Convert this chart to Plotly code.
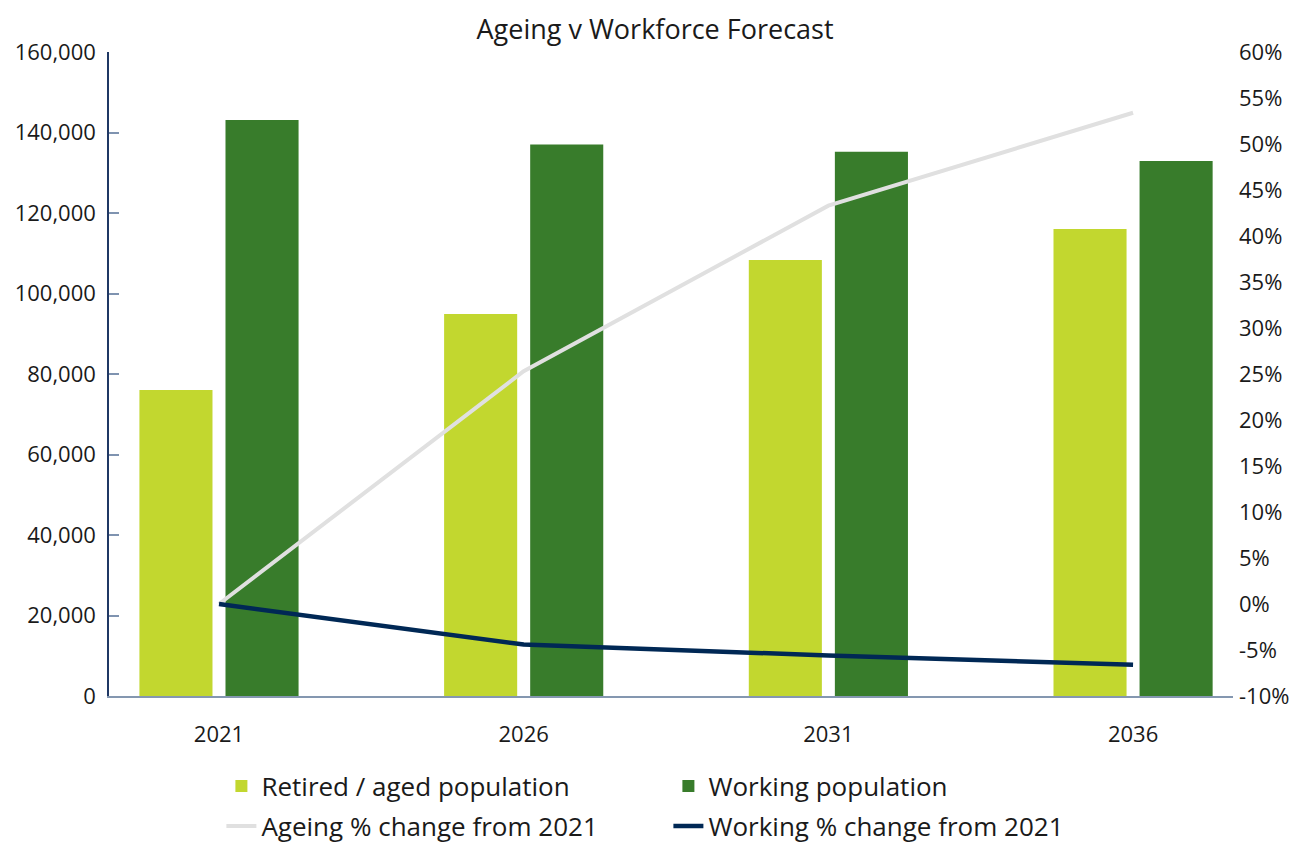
import plotly.graph_objects as go

# Forecast years
years = ["2021", "2026", "2031", "2036"]

# Population counts (left axis)
retired_population = [76000, 94900, 108300, 116000]
working_population = [143100, 137000, 135200, 132900]

# Percentage change from 2021 (right axis)
ageing_change = [0.0, 25.3, 43.3, 53.4]
working_change = [0.0, -4.4, -5.6, -6.6]

left_ticks = [0, 20000, 40000, 60000, 80000, 100000, 120000, 140000, 160000]
right_ticks = list(range(-10, 61, 5))
right_labels = [f"{v}%" for v in right_ticks]

FONT = "Open Sans"
TEXT = "#1a1a1a"

fig = go.Figure()

fig.add_trace(go.Bar(
    x=years, y=retired_population, name="Retired / aged population",
    marker=dict(color="#c2d72f", line=dict(width=0)), legend="legend",
))
fig.add_trace(go.Bar(
    x=years, y=working_population, name="Working population",
    marker=dict(color="#387c2b", line=dict(width=0)), legend="legend",
))
fig.add_trace(go.Scatter(
    x=years, y=ageing_change, name="Ageing % change from 2021",
    mode="lines", line=dict(color="#e0e0e0", width=4), yaxis="y2",
    legend="legend2",
))
fig.add_trace(go.Scatter(
    x=years, y=working_change, name="Working % change from 2021",
    mode="lines", line=dict(color="#002855", width=4.5), yaxis="y2",
    legend="legend2",
))

# Two legend rows: bars on the first, lines on the second
legend_row = dict(
    orientation="h", x=0.1, xanchor="left", yref="container", yanchor="middle",
    font=dict(family=FONT, size=26, color=TEXT),
    entrywidth=402, entrywidthmode="pixels", itemwidth=30,
    traceorder="normal", bgcolor="rgba(0,0,0,0)",
)

fig.update_layout(
    width=1301, height=846,
    margin=dict(l=109, r=68, t=52, b=150, autoexpand=False),
    paper_bgcolor="white", plot_bgcolor="white",
    font=dict(family=FONT, size=22, color=TEXT),
    title=dict(
        text="Ageing v Workforce Forecast",
        x=0.5035, xanchor="center", y=1 - 30 / 846, yanchor="middle",
        yref="container", font=dict(family=FONT, size=27, color=TEXT),
    ),
    barmode="group", bargap=0.435, bargroupgap=0.151,
    showlegend=True,
    legend=dict(legend_row, y=1 - 786 / 846),
    legend2=dict(legend_row, y=1 - 826 / 846),
    xaxis=dict(
        type="category", range=[-0.361, 3.328],
        showline=True, linecolor="#8497b0", linewidth=1.5,
        ticks="", showgrid=False, zeroline=False,
        tickfont=dict(family=FONT, size=22, color=TEXT),
        ticklabelstandoff=18,
    ),
    yaxis=dict(
        range=[0, 160000], tickvals=left_ticks, tickformat=",d",
        showline=True, linecolor="#1f3864", linewidth=1.5,
        ticks="inside", ticklen=10, tickcolor="#7f93b0", tickwidth=1.5,
        showgrid=False, zeroline=False,
        tickfont=dict(family=FONT, size=22, color=TEXT),
        ticklabelstandoff=7,
    ),
    yaxis2=dict(
        range=[-10, 60], tickvals=right_ticks, ticktext=right_labels,
        overlaying="y", side="right", anchor="x",
        showline=False, ticks="", showgrid=False, zeroline=False,
        tickfont=dict(family=FONT, size=22, color=TEXT),
        ticklabelstandoff=5,
    ),
)

fig.write_html("out.html")
